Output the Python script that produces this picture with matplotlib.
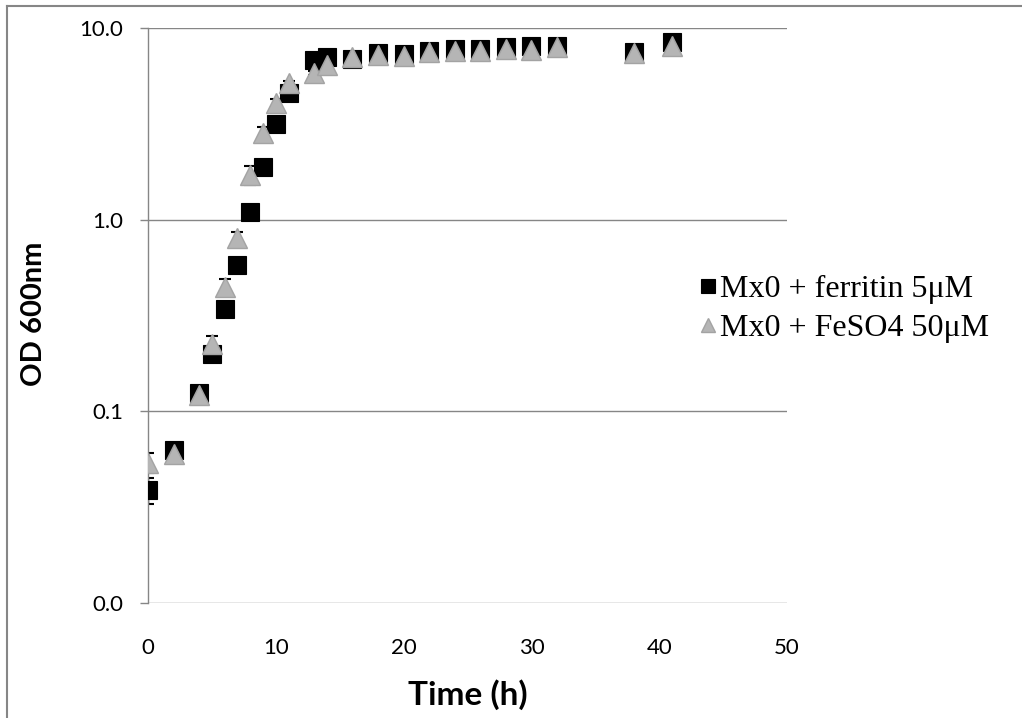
import matplotlib
matplotlib.use('Agg')
import matplotlib.pyplot as plt
from matplotlib.lines import Line2D
from matplotlib.ticker import FixedLocator, FormatStrFormatter, NullLocator


# growth curve values
time_h = [0, 2, 4, 5, 6, 7, 8, 9, 10, 11, 13, 14, 16, 18, 20, 22, 24, 26, 28, 30, 32, 38, 41]
od_ferritin = [0.039, 0.063, 0.125, 0.20, 0.34, 0.58, 1.10, 1.89, 3.15, 4.58, 6.8, 7.08,
               6.87, 7.38, 7.3, 7.55, 7.74, 7.74, 7.93, 8.05, 8.05, 7.47, 8.42]
err_ferritin = [0.006, 0.003, 0.006, 0.01, 0.015, 0.03, 0.05, 0.08, 0.1, 0.15, 0.2, 0.2,
                0.15, 0.15, 0.15, 0.15, 0.15, 0.15, 0.15, 0.15, 0.15, 0.15, 0.15]
od_feso4 = [0.054, 0.060, 0.122, 0.225, 0.445, 0.80, 1.71, 2.82, 4.05, 5.19, 5.83, 6.38,
            7.05, 7.25, 7.15, 7.47, 7.62, 7.62, 7.77, 7.68, 8.0, 7.38, 8.05]
err_feso4 = [0.0065, 0.003, 0.005, 0.022, 0.044, 0.06, 0.2, 0.21, 0.2, 0.12, 0.15, 0.15,
             0.15, 0.15, 0.15, 0.15, 0.15, 0.15, 0.15, 0.15, 0.15, 0.15, 0.15]

labels = ['Mx0 + ferritin 5\u03bcM', 'Mx0 + FeSO4 50\u03bcM']
y_ticks = [0.01, 0.1, 1, 10]
x_ticks = [0, 10, 20, 30, 40, 50]

GRAY = '#868686'
TRI_FILL = '#b5b5b5'
TRI_EDGE = '#a3a3a3'

fig = plt.figure(figsize=(10.22, 7.18), dpi=100)
ax = fig.add_axes([148 / 1022, 1 - 603 / 718, 639 / 1022, 575 / 718])

# chart border (only top and left edges fall inside the picture)
fig.add_artist(Line2D([7 / 1022, 7 / 1022], [0, 1 - 6 / 718], color=GRAY, lw=1.5))
fig.add_artist(Line2D([7 / 1022, 1], [1 - 6 / 718, 1 - 6 / 718], color=GRAY, lw=1.5))

# error bars first, behind the markers
ax.errorbar(time_h, od_ferritin, yerr=err_ferritin, fmt='none', ecolor='black',
            elinewidth=1.0, capsize=4, capthick=1.5, zorder=2)
ax.errorbar(time_h, od_feso4, yerr=err_feso4, fmt='none', ecolor='black',
            elinewidth=1.0, capsize=4, capthick=1.5, zorder=2)

ax.plot(time_h, od_ferritin, ls='none', marker='s', ms=13.5, mfc='black', mec='black',
        mew=0.8, label=labels[0], zorder=3)
ax.plot(time_h, od_feso4, ls='none', marker='^', ms=14, mfc=TRI_FILL, mec=TRI_EDGE,
        mew=1.0, label=labels[1], zorder=4)

ax.set_yscale('log')
ax.set_ylim(0.01, 10)
ax.set_xlim(0, 50)
ax.yaxis.set_major_locator(FixedLocator(y_ticks))
ax.yaxis.set_minor_locator(NullLocator())
ax.yaxis.set_major_formatter(FormatStrFormatter('%.1f'))
ax.xaxis.set_major_locator(FixedLocator(x_ticks))

ax.grid(axis='y', color=GRAY, lw=1.0)
for side in ['top', 'right', 'bottom']:
    ax.spines[side].set_visible(False)
ax.spines['left'].set_color(GRAY)
ax.spines['left'].set_linewidth(1.0)
ax.set_axisbelow(True)

ax.tick_params(axis='y', length=6, width=1.0, color=GRAY, pad=12,
               labelsize=16, labelfontfamily='Lato')
ax.tick_params(axis='x', length=0, pad=25, labelsize=16, labelfontfamily='Lato')

ax.set_xlabel('Time (h)', fontsize=24, fontweight='bold', family='Lato', va='center')
ax.xaxis.set_label_coords(0.5, (603 - 695) / 575)
ax.set_ylabel('OD 600nm', fontsize=21, fontweight='bold', family='Lato', va='center')
ax.yaxis.set_label_coords((34 - 148) / 639, 0.503)

ax.legend(loc='center left', bbox_to_anchor=(698 / 1022, 1 - 309 / 718),
          bbox_transform=fig.transFigure, frameon=False,
          prop={'family': 'Liberation Serif', 'size': 23},
          handlelength=0.6, handletextpad=0.1, labelspacing=0.3,
          borderpad=0, borderaxespad=0, markerscale=0.75)

fig.savefig('out.png', dpi=100)
